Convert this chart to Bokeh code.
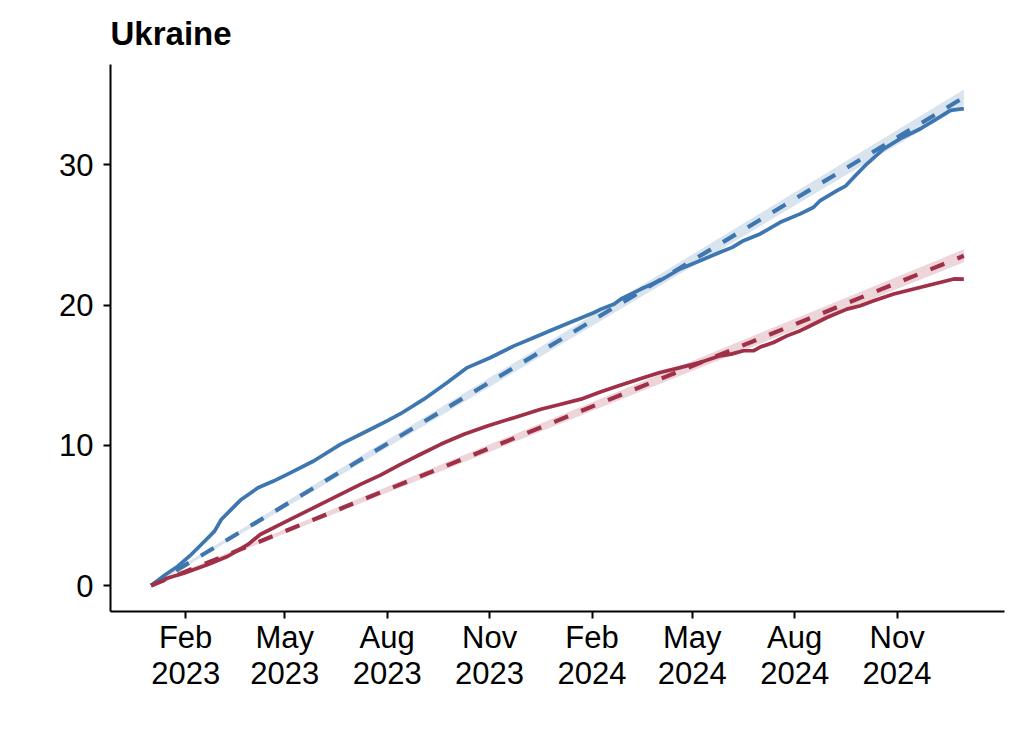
import pandas as pd
from bokeh.plotting import figure
from bokeh.models import FixedTicker, Range1d
from bokeh.embed import file_html
from bokeh.resources import INLINE

# ---------------- data ----------------
blue_dates = ["2023-01-01", "2023-01-14", "2023-01-25", "2023-02-06", "2023-02-18", "2023-02-27",
              "2023-03-05", "2023-03-14", "2023-03-23", "2023-04-07", "2023-04-21", "2023-05-06",
              "2023-05-27", "2023-06-20", "2023-07-14", "2023-08-01", "2023-08-13", "2023-09-03",
              "2023-09-24", "2023-10-12", "2023-11-02", "2023-11-23", "2023-12-11", "2023-12-29",
              "2024-01-16", "2024-02-03", "2024-02-09", "2024-02-21", "2024-02-27", "2024-03-16",
              "2024-04-02", "2024-04-20", "2024-05-08", "2024-05-26", "2024-06-06", "2024-06-16",
              "2024-07-01", "2024-07-19", "2024-08-06", "2024-08-18", "2024-08-24", "2024-09-08",
              "2024-09-16", "2024-09-23", "2024-10-05", "2024-10-20", "2024-11-04", "2024-11-22",
              "2024-12-07", "2024-12-19", "2024-12-31"]
blue_vals = [0.0, 0.79, 1.38, 2.21, 3.16, 3.88,
             4.71, 5.43, 6.14, 6.97, 7.45, 8.04,
             8.88, 10.07, 11.02, 11.74, 12.25, 13.29,
             14.47, 15.54, 16.26, 17.09, 17.69, 18.29,
             18.88, 19.47, 19.71, 20.07, 20.43, 21.14,
             21.74, 22.57, 23.16, 23.76, 24.11, 24.59,
             25.07, 25.9, 26.5, 26.97, 27.45, 28.16,
             28.5, 29.1, 30.07, 31.14, 31.86, 32.57,
             33.29, 33.88, 34.0]

red_dates = ["2023-01-01", "2023-01-16", "2023-01-31", "2023-02-21", "2023-03-11", "2023-03-29",
             "2023-04-09", "2023-04-27", "2023-05-15", "2023-06-02", "2023-06-20", "2023-07-08",
             "2023-07-26", "2023-08-13", "2023-08-31", "2023-09-18", "2023-10-09", "2023-10-30",
             "2023-11-23", "2023-12-17", "2024-01-04", "2024-01-22", "2024-02-09", "2024-02-27",
             "2024-03-16", "2024-04-02", "2024-04-20", "2024-05-08", "2024-05-26", "2024-06-05",
             "2024-06-16", "2024-06-25", "2024-07-01", "2024-07-13", "2024-07-25", "2024-08-06",
             "2024-08-12", "2024-08-30", "2024-09-17", "2024-09-29", "2024-10-11", "2024-10-29",
             "2024-11-16", "2024-12-04", "2024-12-22", "2024-12-31"]
red_vals = [0.0, 0.54, 0.9, 1.5, 2.09, 2.93,
            3.64, 4.36, 5.07, 5.79, 6.5, 7.21,
            7.87, 8.64, 9.36, 10.07, 10.79, 11.38,
            11.97, 12.57, 12.93, 13.29, 13.82, 14.3,
            14.77, 15.19, 15.54, 15.9, 16.38, 16.5,
            16.74, 16.74, 17.0, 17.33, 17.8, 18.17,
            18.4, 19.11, 19.71, 19.95, 20.3, 20.79,
            21.14, 21.5, 21.86, 21.85]

trend_dates = ["2023-01-01", "2023-07-01", "2024-01-01", "2024-07-01", "2024-12-31"]
blue_trend = [0.0, 8.63, 17.4, 26.08, 34.8]
blue_lower = [-0.08, 8.38, 17.04, 25.62, 34.24]
blue_upper = [0.08, 8.88, 17.76, 26.54, 35.36]
red_trend = [0.0, 5.83, 11.76, 17.62, 23.51]
red_lower = [-0.07, 5.63, 11.47, 17.24, 23.05]
red_upper = [0.07, 6.03, 12.05, 18.0, 23.97]

tick_dates = ["2023-02-01", "2023-05-01", "2023-08-01", "2023-11-01",
              "2024-02-01", "2024-05-01", "2024-08-01", "2024-11-01"]
tick_labels = ["Feb\n2023", "May\n2023", "Aug\n2023", "Nov\n2023",
               "Feb\n2024", "May\n2024", "Aug\n2024", "Nov\n2024"]
y_ticks = [0, 10, 20, 30]

BLUE = "#3E76B0"
RED = "#A02F48"
BLUE_BAND = "#D9E4EF"
RED_BAND = "#EDD5DA"
FONT = "Liberation Sans"

# ---------------- figure ----------------
x_start = pd.Timestamp("2022-11-25 12:00")
x_end = pd.Timestamp("2025-02-05 12:00")

p = figure(
    x_axis_type="datetime",
    frame_width=894, frame_height=547,
    min_border_left=110, min_border_top=63, min_border_right=10, min_border_bottom=100,
    x_range=Range1d(x_start, x_end), y_range=Range1d(-1.85, 37.15),
    output_backend="svg", toolbar_location=None,
    title="Ukraine",
)
p.background_fill_color = "white"
p.border_fill_color = "white"
p.outline_line_color = None
p.grid.visible = False

p.title.text_font = FONT
p.title.text_font_size = "33px"
p.title.text_font_style = "bold"
p.title.text_color = "black"
p.title.align = "left"
p.title.offset = 0
p.title.standoff = 25

tdates = pd.to_datetime(trend_dates)
p.varea(x=tdates, y1=blue_lower, y2=blue_upper, fill_color=BLUE_BAND, fill_alpha=1)
p.varea(x=tdates, y1=red_lower, y2=red_upper, fill_color=RED_BAND, fill_alpha=1)

p.line(pd.to_datetime(blue_dates), blue_vals, line_color=BLUE, line_width=3.7, line_join="round")
p.line(pd.to_datetime(red_dates), red_vals, line_color=RED, line_width=3.7, line_join="round")

p.line(tdates, blue_trend, line_color=BLUE, line_width=4.2, line_dash="15 14")
p.line(tdates, red_trend, line_color=RED, line_width=4.2, line_dash="15 14")

# axes
ticks_ms = [int(pd.Timestamp(d).value // 10**6) for d in tick_dates]
p.xaxis.ticker = FixedTicker(ticks=ticks_ms)
p.xaxis.major_label_overrides = {t: lbl for t, lbl in zip(ticks_ms, tick_labels)}
p.yaxis.ticker = FixedTicker(ticks=y_ticks)

for ax in (p.xaxis[0], p.yaxis[0]):
    ax.axis_line_color = "black"
    ax.axis_line_width = 2
    ax.major_tick_line_color = "black"
    ax.major_tick_line_width = 2
    ax.major_tick_out = 7
    ax.major_tick_in = 0
    ax.minor_tick_line_color = None
    ax.major_label_text_font = FONT
    ax.major_label_text_font_size = "31px"
    ax.major_label_text_color = "black"

p.xaxis.major_label_text_line_height = 1.05
p.xaxis.major_label_standoff = 1
p.yaxis.major_label_standoff = 10

open("out.html", "w").write(file_html(p, INLINE))
